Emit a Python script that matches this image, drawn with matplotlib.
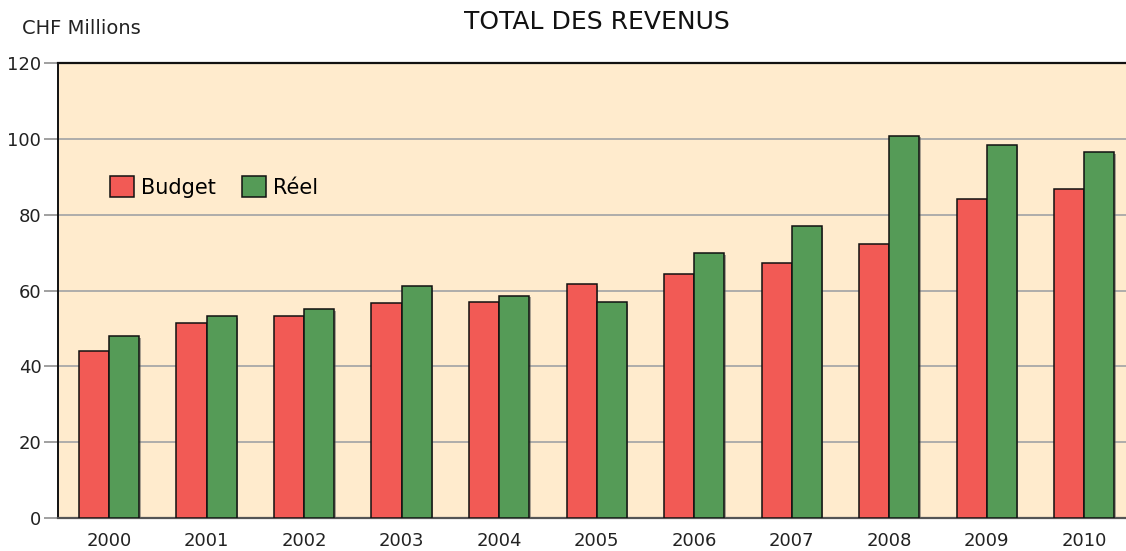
import matplotlib
matplotlib.use("Agg")
import matplotlib.pyplot as plt
import numpy as np
import matplotlib.patheffects as pe

years = ["2000", "2001", "2002", "2003", "2004", "2005", "2006", "2007", "2008", "2009", "2010"]
budget = [44.0, 51.4, 53.3, 56.7, 57.0, 61.7, 64.3, 67.3, 72.2, 84.2, 86.8]
reel = [48.0, 53.3, 55.1, 61.2, 58.6, 57.0, 69.8, 77.0, 100.8, 98.5, 96.5]
series_names = ["Budget", "Réel"]
yticks = [0, 20, 40, 60, 80, 100, 120]

plt.rcParams['font.family'] = ['DejaVu Sans']

fig = plt.figure(figsize=(11.26, 5.51), dpi=100)
ax = fig.add_axes([58/1126, 33/551, 1 - 58/1126, 455/551])
ax.set_facecolor('#FFEBCD')

x = np.arange(len(years))
w = 0.308
shadow = [pe.SimplePatchShadow(offset=(1.2, -1.2), shadow_rgbFace='#555555', alpha=0.5), pe.Normal()]
b1 = ax.bar(x - w/2, budget, w, color='#F25A55', edgecolor='#111111', linewidth=1.1,
            label=series_names[0], zorder=3)
b2 = ax.bar(x + w/2, reel, w, color='#559B57', edgecolor='#111111', linewidth=1.1,
            label=series_names[1], zorder=3)
for p in list(b1) + list(b2):
    p.set_path_effects(shadow)

ax.set_xlim(-0.523, 10.43)
ax.set_ylim(0, 120)
ax.set_yticks(yticks)
ax.set_yticklabels([str(t) for t in yticks], fontsize=13, color='#222222')
ax.set_xticks(x)
ax.set_xticklabels(years, fontsize=13, color='#222222')
ax.tick_params(axis='x', length=0, pad=10)
ax.tick_params(axis='y', length=10, width=1.2, color='#909090', pad=2)
ax.yaxis.grid(True, color='#A8A8A8', linewidth=1.3, zorder=1)
ax.set_axisbelow(True)

ax.spines['left'].set_color('#111111')
ax.spines['left'].set_linewidth(1.4)
ax.spines['top'].set_color('#111111')
ax.spines['top'].set_linewidth(1.6)
ax.spines['bottom'].set_color('#555555')
ax.spines['bottom'].set_linewidth(1.6)
ax.spines['right'].set_visible(False)

leg = ax.legend(loc='center left', bbox_to_anchor=((110-58)/1068, (518-187)/455), ncol=2,
                frameon=False, fontsize=15, handlelength=1.15, handleheight=1.15,
                handletextpad=0.35, columnspacing=1.25, borderpad=0, borderaxespad=0)
for h in leg.legend_handles:
    h.set_path_effects([])

fig.text(597/1126, 1 - 22/551, "TOTAL DES REVENUS", ha='center', va='center', fontsize=18, color='#111111')
fig.text(22/1126, 1 - 28/551, "CHF Millions", ha='left', va='center', fontsize=14, color='#222222')

fig.savefig("out.png", dpi=100)
